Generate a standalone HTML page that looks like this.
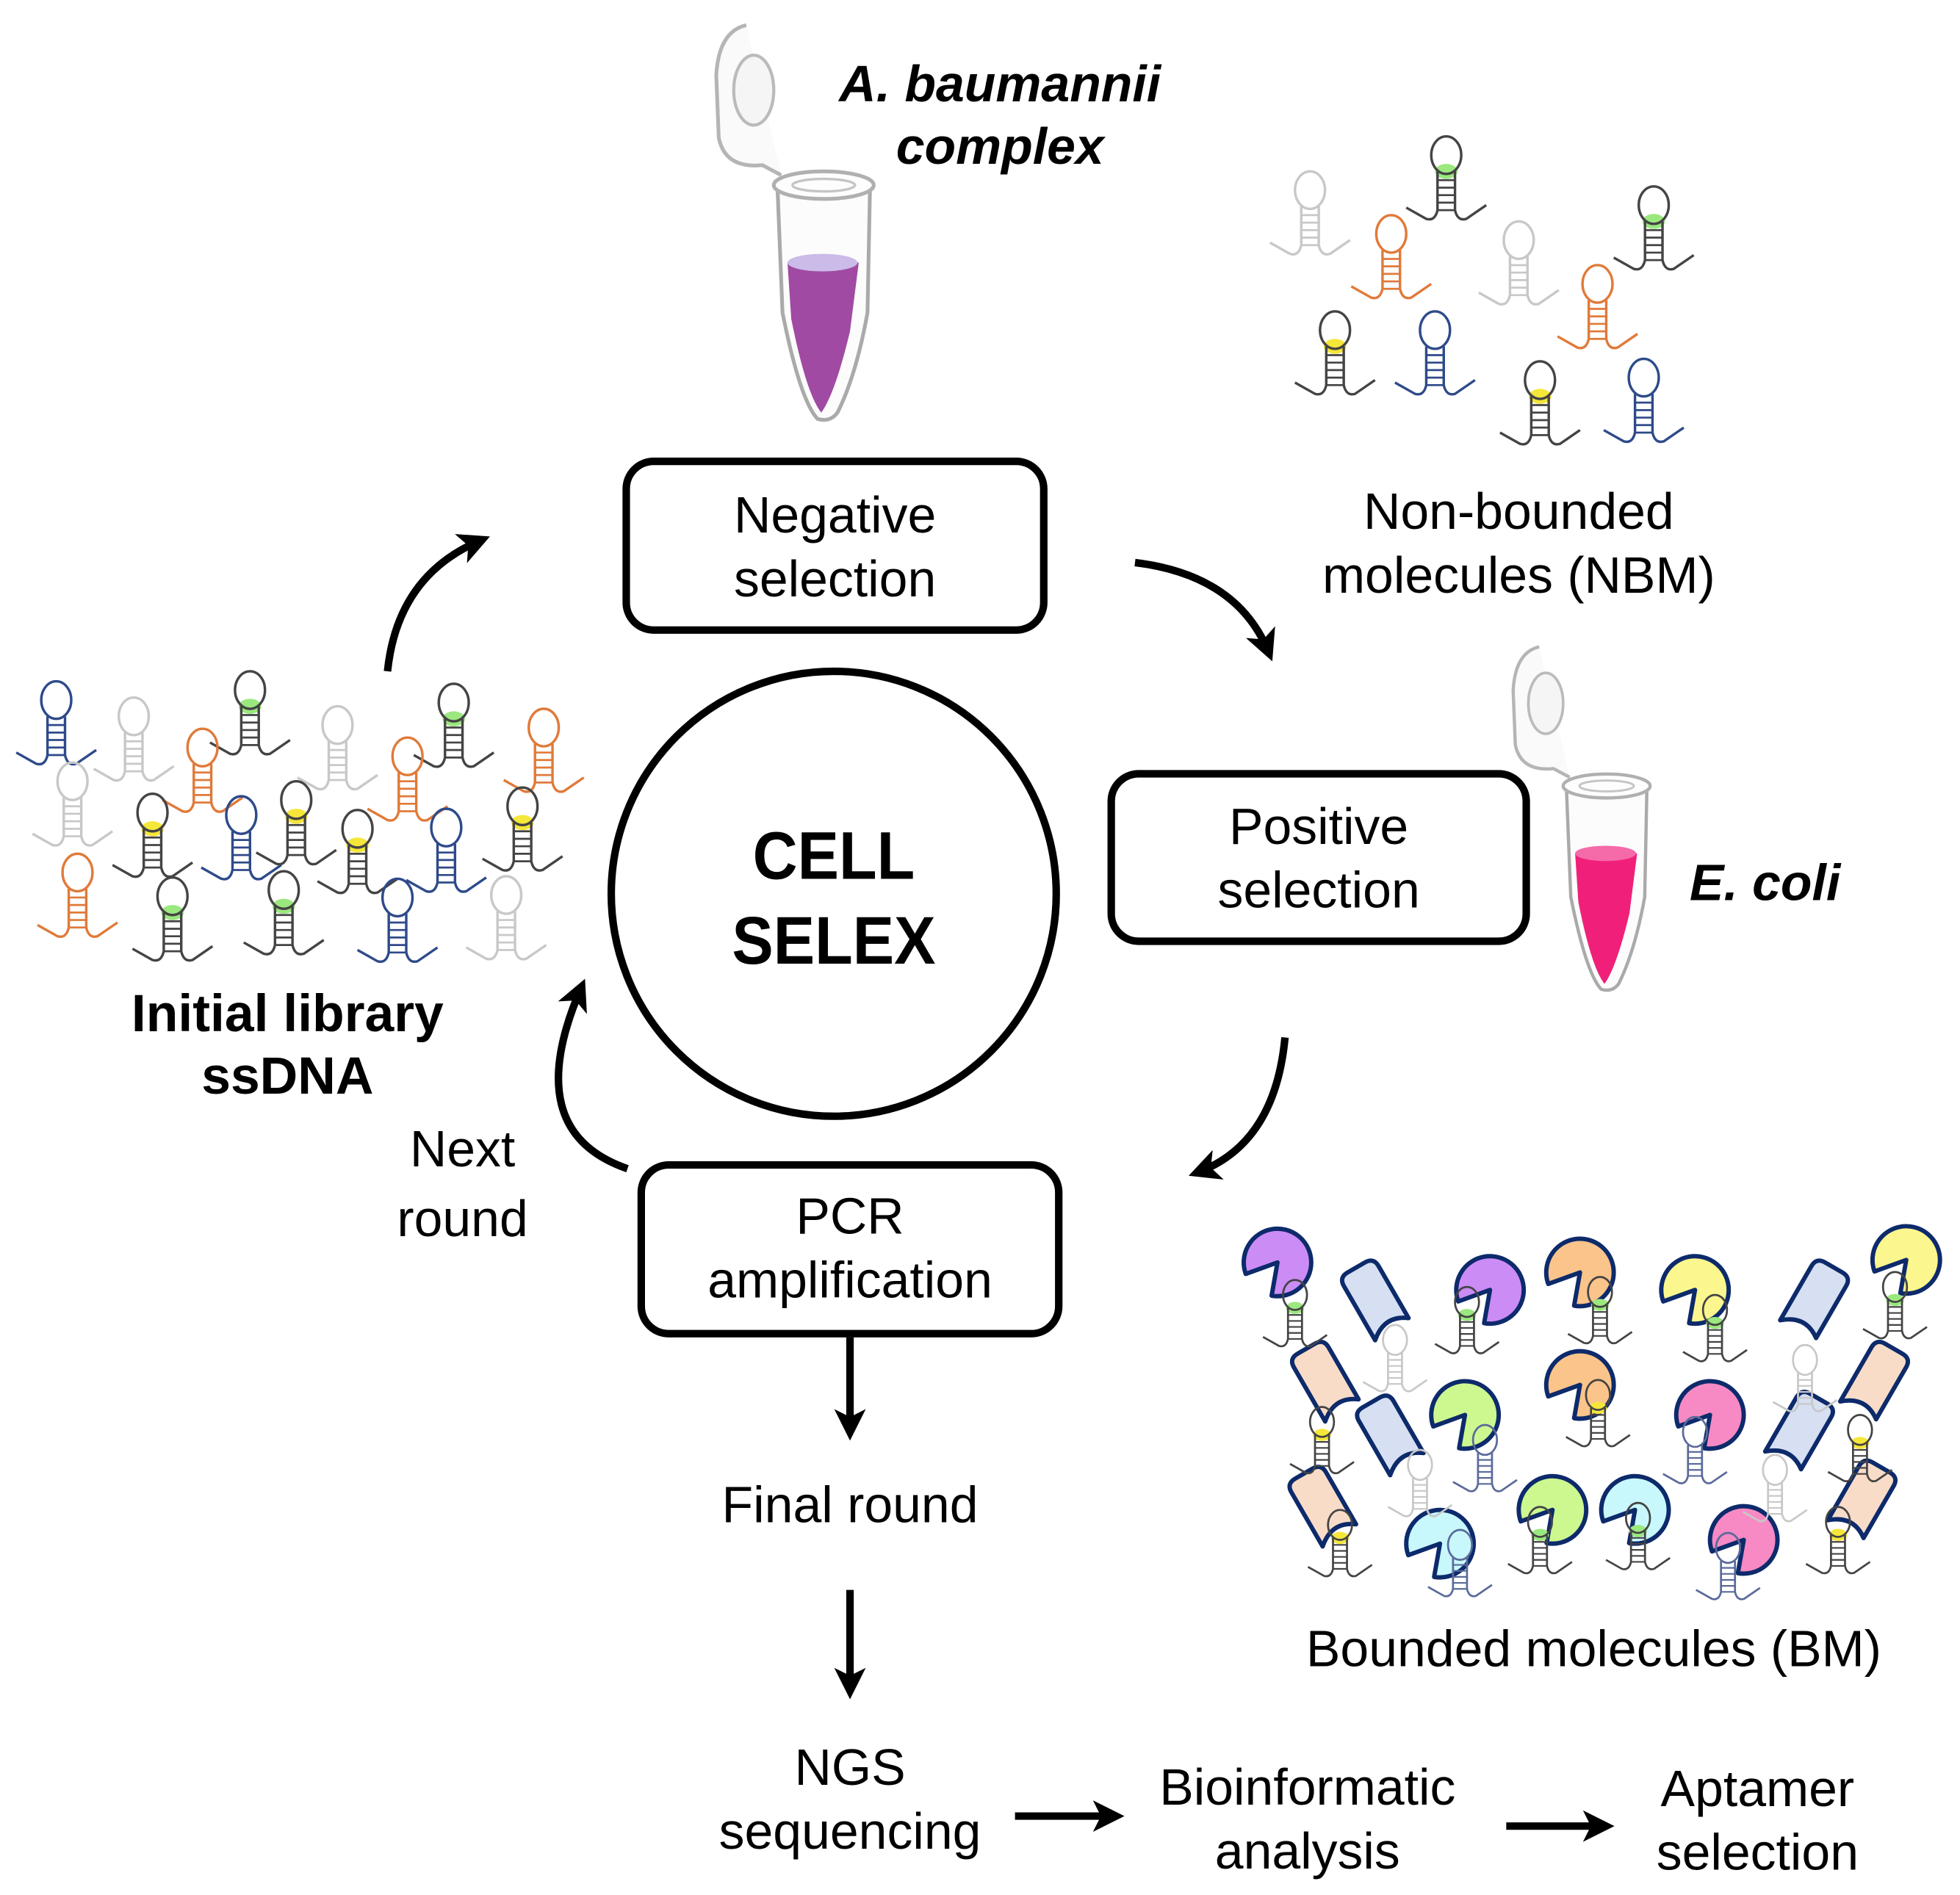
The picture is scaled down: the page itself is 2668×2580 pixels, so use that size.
<!DOCTYPE html>
<html><head><meta charset="utf-8"><style>
html,body{margin:0;padding:0;background:#fff;}
svg{display:block;}
text{font-family:"Liberation Sans",Arial,sans-serif;}
</style></head><body>
<svg width="2668" height="2580" viewBox="0 0 1568 1516" xmlns="http://www.w3.org/2000/svg">
<defs>
<marker id="ah" viewBox="0 0 10 10" refX="7" refY="5" markerWidth="4.2" markerHeight="4.2" orient="auto" markerUnits="strokeWidth"><path d="M0,0 L10,5 L0,10 L2.5,5 Z" fill="#000"/></marker>
<g id="apt" fill="none" stroke-width="2">
 <ellipse cx="0" cy="0" rx="12" ry="15"/>
 <path d="M-7,13 V44 Q-9,53 -16,51 L-32,42 M7,13 V44 Q9,53 16,51 L32,40"/>
 <path d="M-7,20 H7 M-7,26 H7 M-7,32 H7 M-7,38 H7 M-7,44 H7" stroke-width="1.6"/>
</g>
<g id="aptG"><ellipse cx="0" cy="13" rx="9" ry="6" fill="#9be87f"/><use href="#apt" stroke="#444"/></g>
<g id="aptY"><ellipse cx="0" cy="13" rx="9" ry="6" fill="#f5e63a"/><use href="#apt" stroke="#444"/></g>
<path id="pie" d="M0,0 L-25.4,9.2 A27,27 0 1 1 -4.7,26.6 Z" stroke="#0d2a6b" stroke-width="3.5" stroke-linejoin="round"/>
<path id="cyl" d="M-16,-22 Q-16,-30 -8,-30 L8,-30 Q16,-30 16,-22 L16,26 Q0,14 -16,28 Z" stroke="#0d2a6b" stroke-width="3.5" stroke-linejoin="round"/>
<g id="tube">
 <path d="M597,20 Q575,25 573,60 L575,110 Q580,135 610,132 L625,140" fill="#fafafa" stroke="#b5b5b5" stroke-width="3"/>
 <ellipse cx="603" cy="72" rx="16" ry="28" fill="#f5f5f5" stroke="#bbb" stroke-width="2.5"/>
 <path d="M622,150 L626,250 Q640,320 654,335 Q664,338 670,330 Q685,300 694,250 L696,150 Z" fill="#fcfcfc" stroke="#aaa" stroke-width="3"/>
 <ellipse cx="659" cy="148" rx="40" ry="11" fill="#fdfdfd" stroke="#b0b0b0" stroke-width="3"/>
 <ellipse cx="659" cy="148" rx="25" ry="5" fill="none" stroke="#c5c5c5" stroke-width="2"/>
</g>
</defs>

<g><use href="#tube"/><path d="M630,210 L633,255 Q645,315 657,330 Q668,315 680,265 L687,210 Z" fill="#a14aa3"/><ellipse cx="658" cy="210" rx="28" ry="7" fill="#cbbbe8"/></g>
<g transform="translate(712,500) scale(0.87)"><use href="#tube"/><path d="M630,210 L633,255 Q645,315 657,330 Q668,315 680,265 L687,210 Z" fill="#f0207a"/><ellipse cx="658" cy="210" rx="28" ry="7" fill="#f56aa8"/></g>

<g fill="#fff" stroke="#000" stroke-width="6">
<rect x="501" y="369" width="334" height="135" rx="22"/>
<rect x="889" y="619" width="332" height="134" rx="22"/>
<rect x="513" y="932" width="334" height="135" rx="22"/>
<circle cx="667" cy="715" r="178"/>
</g>
<g font-size="41" text-anchor="middle" fill="#000">
<text x="668" y="426">Negative</text><text x="668" y="477">selection</text>
<text x="1055" y="675">Positive</text><text x="1055" y="726">selection</text>
<text x="680" y="987">PCR</text><text x="680" y="1038">amplification</text>
<text x="680" y="1218">Final round</text>
<text x="680" y="1428">NGS</text><text x="680" y="1479">sequencing</text>
<text x="1046" y="1444">Bioinformatic</text><text x="1046" y="1495">analysis</text>
<text x="1406" y="1445">Aptamer</text><text x="1406" y="1496">selection</text>
<text x="370" y="933">Next</text><text x="370" y="989">round</text>
<text x="1215" y="423">Non-bounded</text><text x="1215" y="474">molecules (NBM)</text>
<text x="1275" y="1333">Bounded molecules (BM)</text>
</g>
<g font-size="42" font-weight="bold" text-anchor="middle">
<text x="230" y="825">Initial library</text><text x="230" y="875">ssDNA</text>
</g>
<g font-size="41" font-weight="bold" font-style="italic" text-anchor="middle">
<text x="800" y="81">A. baumannii</text><text x="800" y="131">complex</text>
<text x="1412" y="720">E. coli</text>
</g>
<g font-size="54" font-weight="900" text-anchor="middle" font-family="'DejaVu Sans',sans-serif" transform="translate(667,0) scale(0.92,1)">
<text x="0" y="703">CELL</text><text x="0" y="771">SELEX</text>
</g>

<g fill="none" stroke="#000" stroke-width="6" marker-end="url(#ah)">
<path d="M310,537 Q318,460 385,432"/>
<path d="M908,450 Q990,460 1015,522"/>
<path d="M1028,830 Q1020,915 958,938"/>
<path d="M502,935 Q415,905 465,790"/>
<path d="M680,1070 V1145"/>
<path d="M680,1272 V1352"/>
<path d="M812,1453 H892"/>
<path d="M1205,1461 H1284"/>
</g>

<g>
<use href="#apt" x="45" y="560" stroke="#2e4a8a"/>
<use href="#apt" x="107" y="573" stroke="#c8c8c8"/>
<use href="#aptG" x="200" y="552"/>
<use href="#apt" x="162" y="598" stroke="#e07a3a"/>
<use href="#apt" x="270" y="580" stroke="#c8c8c8"/>
<use href="#aptG" x="363" y="562"/>
<use href="#apt" x="435" y="582" stroke="#e07a3a"/>
<use href="#apt" x="326" y="605" stroke="#e07a3a"/>
<use href="#apt" x="58" y="625" stroke="#c8c8c8"/>
<use href="#aptY" x="122" y="650"/>
<use href="#apt" x="193" y="652" stroke="#2e4a8a"/>
<use href="#aptY" x="237" y="640"/>
<use href="#aptY" x="286" y="663"/>
<use href="#apt" x="357" y="662" stroke="#2e4a8a"/>
<use href="#aptY" x="418" y="645"/>
<use href="#apt" x="62" y="698" stroke="#e07a3a"/>
<use href="#aptG" x="138" y="717"/>
<use href="#aptG" x="227" y="712"/>
<use href="#apt" x="318" y="718" stroke="#2e4a8a"/>
<use href="#apt" x="405" y="716" stroke="#c8c8c8"/>
</g>
<g>
<use href="#apt" x="1048" y="152" stroke="#c8c8c8"/>
<use href="#aptG" x="1157" y="124"/>
<use href="#apt" x="1113" y="187" stroke="#e07a3a"/>
<use href="#apt" x="1215" y="192" stroke="#c8c8c8"/>
<use href="#aptG" x="1323" y="164"/>
<use href="#apt" x="1278" y="227" stroke="#e07a3a"/>
<use href="#aptY" x="1068" y="264"/>
<use href="#apt" x="1148" y="264" stroke="#2e4a8a"/>
<use href="#aptY" x="1232" y="304"/>
<use href="#apt" x="1315" y="302" stroke="#2e4a8a"/>
</g>
<g>
<use href="#pie" transform="translate(1022,1010)" fill="#cc8cf5"/>
<use href="#cyl" transform="translate(1100,1040) rotate(-30)" fill="#d6e0f2"/>
<use href="#pie" transform="translate(1192,1032)" fill="#cc8cf5"/>
<use href="#pie" transform="translate(1264,1018)" fill="#fbc48a"/>
<use href="#pie" transform="translate(1356,1032)" fill="#fbf78e"/>
<use href="#cyl" transform="translate(1452,1040) rotate(30)" fill="#d6e0f2"/>
<use href="#pie" transform="translate(1525,1008)" fill="#fbf78e"/>
<use href="#cyl" transform="translate(1060,1105) rotate(-30)" fill="#f8dcc8"/>
<use href="#cyl" transform="translate(1112,1148) rotate(-30)" fill="#d6e0f2"/>
<use href="#pie" transform="translate(1172,1132)" fill="#cdf890"/>
<use href="#pie" transform="translate(1264,1108)" fill="#fbc48a"/>
<use href="#pie" transform="translate(1368,1132)" fill="#f78ac4"/>
<use href="#cyl" transform="translate(1440,1145) rotate(30)" fill="#d6e0f2"/>
<use href="#cyl" transform="translate(1500,1105) rotate(30)" fill="#f8dcc8"/>
<use href="#cyl" transform="translate(1058,1205) rotate(-30)" fill="#f8dcc8"/>
<use href="#pie" transform="translate(1152,1235)" fill="#c8f8fb"/>
<use href="#pie" transform="translate(1242,1208)" fill="#cdf890"/>
<use href="#pie" transform="translate(1308,1208)" fill="#c8f8fb"/>
<use href="#pie" transform="translate(1395,1232)" fill="#f78ac4"/>
<use href="#cyl" transform="translate(1490,1200) rotate(30)" fill="#f8dcc8"/>
<g transform="scale(0.8)">
<use href="#aptG" x="1295" y="1295"/>
<use href="#apt" x="1395" y="1340" stroke="#c8c8c8"/>
<use href="#aptG" x="1467" y="1302"/>
<use href="#aptG" x="1600" y="1292"/>
<use href="#aptG" x="1715" y="1310"/>
<use href="#apt" x="1805" y="1360" stroke="#c8c8c8"/>
<use href="#aptG" x="1895" y="1287"/>
<use href="#aptY" x="1322" y="1422"/>
<use href="#apt" x="1420" y="1465" stroke="#c8c8c8"/>
<use href="#apt" x="1485" y="1440" stroke="#5a6a9a"/>
<use href="#aptY" x="1598" y="1395"/>
<use href="#apt" x="1695" y="1432" stroke="#5a6a9a"/>
<use href="#apt" x="1775" y="1470" stroke="#c8c8c8"/>
<use href="#aptY" x="1860" y="1430"/>
<use href="#aptY" x="1340" y="1525"/>
<use href="#apt" x="1460" y="1545" stroke="#5a6a9a"/>
<use href="#aptG" x="1540" y="1522"/>
<use href="#aptG" x="1638" y="1518"/>
<use href="#apt" x="1728" y="1548" stroke="#5a6a9a"/>
<use href="#aptY" x="1838" y="1522"/>
</g>
</g>
</svg>
</body></html>
